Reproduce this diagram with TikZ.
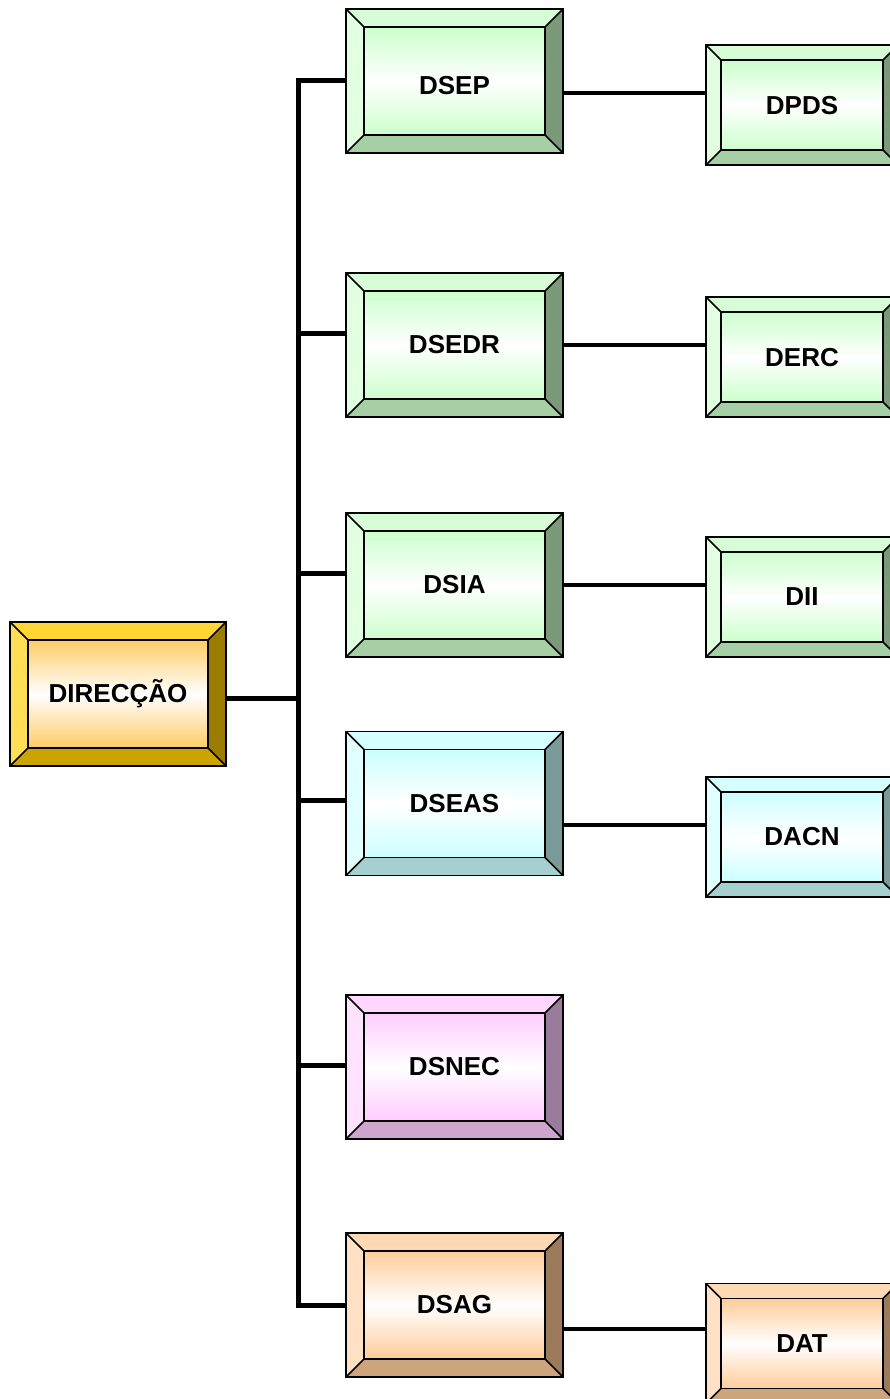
\documentclass[tikz,border=0pt]{standalone}
\usepackage{fontspec}
\setmainfont{Liberation Sans}
\usetikzlibrary{calc}
% colour schemes: Top, Left, Right, Bot, In
\definecolor{gTop}{HTML}{D6FDD6}\definecolor{gLeft}{HTML}{E2FFE2}\definecolor{gRight}{HTML}{7A9A7A}\definecolor{gBot}{HTML}{A6CFA6}\definecolor{gIn}{HTML}{CCFFCC}
\definecolor{cTop}{HTML}{D6FFFF}\definecolor{cLeft}{HTML}{E2FFFF}\definecolor{cRight}{HTML}{7A9A9A}\definecolor{cBot}{HTML}{A6CFCF}\definecolor{cIn}{HTML}{CCFFFF}
\definecolor{pTop}{HTML}{FFD6FF}\definecolor{pLeft}{HTML}{FFE2FF}\definecolor{pRight}{HTML}{9B7B9B}\definecolor{pBot}{HTML}{CDA6CD}\definecolor{pIn}{HTML}{FFCCFF}
\definecolor{oTop}{HTML}{FFD9B3}\definecolor{oLeft}{HTML}{FFE2C6}\definecolor{oRight}{HTML}{9B7B5B}\definecolor{oBot}{HTML}{CDA57D}\definecolor{oIn}{HTML}{FFCC99}
\definecolor{yTop}{HTML}{FFD633}\definecolor{yLeft}{HTML}{FFDD55}\definecolor{yRight}{HTML}{9B7B00}\definecolor{yBot}{HTML}{CCA300}\definecolor{yIn}{HTML}{FFCC66}
\tikzset{
  boxframe/.style={inner sep=0pt, outer sep=0pt, draw=none},
  edgeline/.style={draw=black, line width=1.6pt, line join=miter},
  boxlabel/.style={font=\fontsize{26}{30}\selectfont\bfseries, inner sep=0pt},
  trunkline/.style={line width=5pt, line join=miter, line cap=butt},
  subline/.style={line width=3.5pt},
}
% [#1 label yshift], #2 name, #3 position, #4 width, #5 height, #6 bevel, #7 scheme, #8 text
\newcommand\bevbox[8][0pt]{%
  \node[boxframe, minimum width=#4pt, minimum height=#5pt] (#2) at (#3) {};
  \coordinate (#2-inw) at ($(#2.north west)+(#6,#6)$);
  \coordinate (#2-ine) at ($(#2.north east)+(-#6,#6)$);
  \coordinate (#2-ise) at ($(#2.south east)+(-#6,-#6)$);
  \coordinate (#2-isw) at ($(#2.south west)+(#6,-#6)$);
  \fill[#7Top] (#2.north west) -- (#2.north east) -- (#2-ine) -- (#2-inw) -- cycle;
  \fill[#7Left] (#2.north west) -- (#2-inw) -- (#2-isw) -- (#2.south west) -- cycle;
  \fill[#7Right] (#2.north east) -- (#2.south east) -- (#2-ise) -- (#2-ine) -- cycle;
  \fill[#7Bot] (#2.south west) -- (#2-isw) -- (#2-ise) -- (#2.south east) -- cycle;
  \shade[top color=#7In, bottom color=#7In, middle color=white] (#2-inw) rectangle (#2-ise);
  \draw[edgeline] (#2.north west) rectangle (#2.south east);
  \draw[edgeline] (#2-inw) rectangle (#2-ise);
  \draw[edgeline] (#2.north west) -- (#2-inw) (#2.north east) -- (#2-ine)
                  (#2.south east) -- (#2-ise) (#2.south west) -- (#2-isw);
  \node[boxlabel, yshift=#1] (#2-label) at (#2.center) {#8};
}
\begin{document}
\begin{tikzpicture}[x=1pt, y=-1pt]
\useasboundingbox (0,0) rectangle (890,1399);
\clip (0,0) rectangle (890,1399);
\fill[white] (0,0) rectangle (890,1399);

% trunk coordinate
\coordinate (trunk) at (298.5,0);

% main boxes
\bevbox{dir}{118,694}{216}{144}{18}{y}{DIRECÇÃO}
\bevbox[-5pt]{dsep}{454.5,81}{217}{144}{18}{g}{DSEP}
\bevbox{dsedr}{454.5,345}{217}{144}{18}{g}{DSEDR}
\bevbox{dsia}{454.5,585}{217}{144}{18}{g}{DSIA}
\bevbox{dseas}{454.5,803.5}{217}{144}{18}{c}{DSEAS}
\bevbox{dsnec}{454.5,1067}{217}{144}{18}{p}{DSNEC}
\bevbox{dsag}{454.5,1305}{217}{144}{18}{o}{DSAG}

% right boxes
\bevbox[-1pt]{dpds}{802,105}{192}{120}{15}{g}{DPDS}
\bevbox[-1pt]{derc}{802,357}{192}{120}{15}{g}{DERC}
\bevbox{dii}{802,597}{192}{120}{15}{g}{DII}
\bevbox{dacn}{802,837}{192}{120}{15}{c}{DACN}
\bevbox{dat}{802,1343.5}{192}{120}{15}{o}{DAT}

% trunk and branches
\draw[trunkline] (dsep.west) -- (dsep.west -| trunk) -- (dsag.west -| trunk) -- (dsag.west);
\draw[trunkline] ([yshift=-4pt]dir.east) -- ([yshift=-4pt]dir.east -| trunk);
\draw[trunkline] ([yshift=12pt]dsedr.west) -- ([yshift=12pt]dsedr.west -| trunk);
\draw[trunkline] ([yshift=12pt]dsia.west) -- ([yshift=12pt]dsia.west -| trunk);
\draw[trunkline] ([yshift=3.5pt]dseas.west) -- ([yshift=3.5pt]dseas.west -| trunk);
\draw[trunkline] ([yshift=2pt]dsnec.west) -- ([yshift=2pt]dsnec.west -| trunk);

% secondary connectors
\draw[subline] ([yshift=-12pt]dsep.east) -- ([yshift=-12pt]dsep.east -| dpds.west);
\draw[subline] (dsedr.east) -- (dsedr.east -| derc.west);
\draw[subline] (dsia.east) -- (dsia.east -| dii.west);
\draw[subline] ([yshift=-21.5pt]dseas.east) -- ([yshift=-21.5pt]dseas.east -| dacn.west);
\draw[subline] ([yshift=-24pt]dsag.east) -- ([yshift=-24pt]dsag.east -| dat.west);
\end{tikzpicture}
\end{document}
